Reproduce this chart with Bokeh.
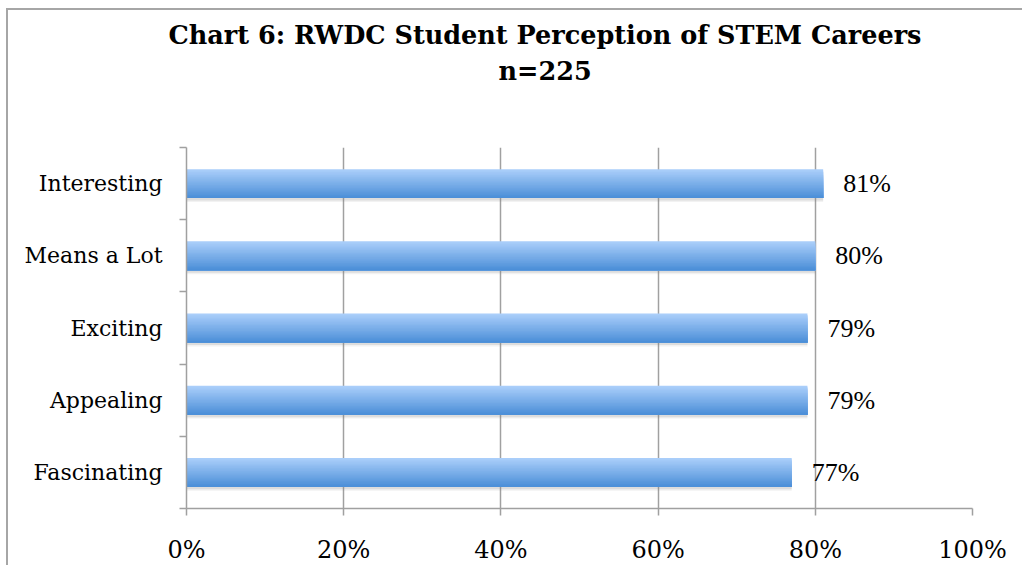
from bokeh.plotting import figure
from bokeh.models import (ColumnDataSource, Range1d, FixedTicker, Title, LabelSet,
                          CustomJSTickFormatter)
from bokeh.embed import file_html
from bokeh.resources import INLINE

# Survey results (percent of students agreeing), bottom to top
categories = ["Fascinating", "Appealing", "Exciting", "Means a Lot", "Interesting"]
values = [77, 79, 79, 80, 81]
x_ticks = [0, 20, 40, 60, 80, 100]

SERIF = "DejaVu Serif"
GRID = "#a0a0a0"

p = figure(width=1016, height=557, output_backend="svg", toolbar_location=None,
           x_range=Range1d(0, 100), y_range=Range1d(0, len(categories)),
           min_border_left=178, min_border_right=52, min_border_bottom=59,
           min_border_top=137,
           background_fill_color="white", border_fill_color="white",
           outline_line_color=None)
p.margin = (8, 0, 0, 6)
p.styles = {"border-style": "solid none none solid", "border-width": "2px 0px 0px 2px",
            "border-color": "#a6a6a6"}

# Two-line heading (a thin spacer keeps it clear of the plot area)
p.add_layout(Title(text=" ", text_font_size="1px", standoff=57), "above")
p.add_layout(Title(text="n=225", align="left", offset=312, standoff=4,
                   text_font=SERIF, text_font_size="25.5px", text_font_style="bold",
                   text_color="black"), "above")
p.add_layout(Title(text="Chart 6: RWDC Student Perception of STEM Careers", align="left",
                   offset=-18, standoff=4, text_font=SERIF, text_font_size="25.5px",
                   text_font_style="bold", text_color="black"), "above")

centers = [i + 0.5 for i in range(len(categories))]
bar_h = 0.4

# Soft drop shadow under each bar
for dy, a in [(0.035, 0.18), (0.055, 0.10)]:
    p.hbar(y=[c - dy for c in centers], right=values, left=0, height=bar_h,
           fill_color="#808080", fill_alpha=a, line_color=None)

# Vertical gradient fill, light blue at the top to deeper blue at the bottom.
# Layers all start at the bar's bottom edge and shrink as they darken, so no seams show.
top_rgb = (170, 206, 250)
bot_rgb = (76, 143, 216)
n_strips = 20
strip = bar_h / n_strips
for s in reversed(range(n_strips)):
    t = s / (n_strips - 1)
    rgb = tuple(int(round(bot_rgb[j] + (top_rgb[j] - bot_rgb[j]) * t)) for j in range(3))
    col = "#%02x%02x%02x" % rgb
    layer_h = strip * (s + 1)
    p.hbar(y=[c - bar_h / 2 + layer_h / 2 for c in centers], right=values, left=0,
           height=layer_h, fill_color=col, line_color=None)

# Value labels
src = ColumnDataSource(dict(y=centers, x=values, txt=["%d%%" % v for v in values]))
p.add_layout(LabelSet(x="x", y="y", text="txt", source=src, x_offset=20,
                      text_font=SERIF, text_font_size="26px", text_color="black",
                      text_baseline="middle", text_align="left"))

# Grid
p.ygrid.visible = False
p.xgrid.grid_line_color = GRID
p.xgrid.grid_line_width = 1.5

# X axis
p.xaxis.ticker = FixedTicker(ticks=x_ticks)
p.xaxis.formatter = CustomJSTickFormatter(code="return tick + '%';")
p.xaxis.axis_line_color = GRID
p.xaxis.axis_line_width = 1.5
p.xaxis.major_tick_line_color = GRID
p.xaxis.major_tick_line_width = 1.5
p.xaxis.major_tick_in = 0
p.xaxis.major_tick_out = 7
p.xaxis.minor_tick_line_color = None
p.xaxis.major_label_text_font = SERIF
p.xaxis.major_label_text_font_size = "24px"
p.xaxis.major_label_text_color = "black"
p.xaxis.major_label_standoff = 20

# Y axis: labels at category centres, tick marks at category boundaries
p.yaxis.ticker = FixedTicker(ticks=centers, minor_ticks=list(range(len(categories) + 1)))
p.yaxis.major_label_overrides = {c: name for c, name in zip(centers, categories)}
p.yaxis.axis_line_color = GRID
p.yaxis.axis_line_width = 1.5
p.yaxis.major_tick_line_color = None
p.yaxis.minor_tick_line_color = GRID
p.yaxis.minor_tick_line_width = 1.5
p.yaxis.minor_tick_in = 0
p.yaxis.minor_tick_out = 7
p.yaxis.major_label_text_font = SERIF
p.yaxis.major_label_text_font_size = "22px"
p.yaxis.major_label_text_color = "black"
p.yaxis.major_label_standoff = 17

open("out.html", "w").write(file_html(p, INLINE))
